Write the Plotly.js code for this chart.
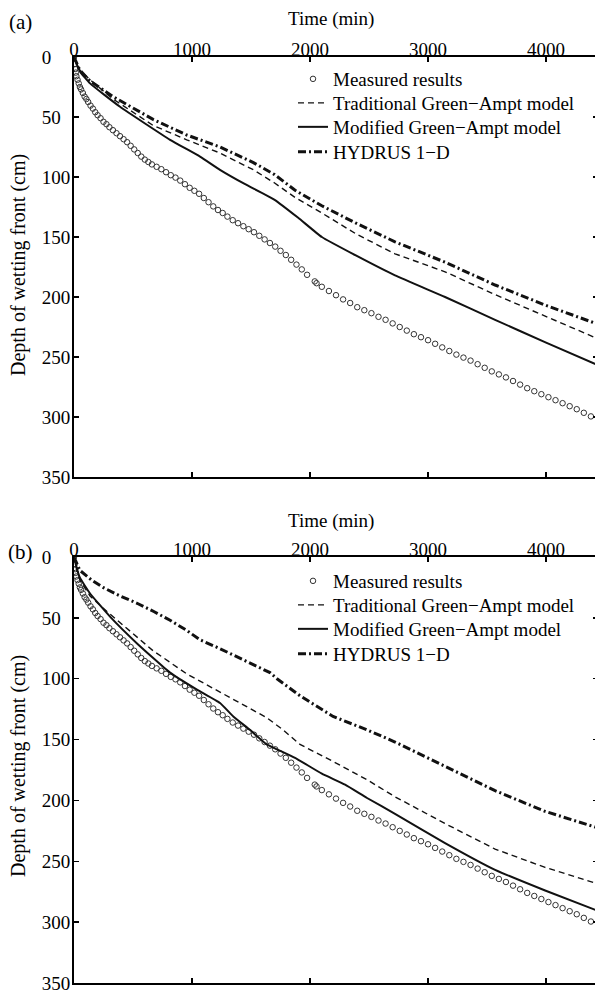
<!DOCTYPE html>
<html>
<head>
<meta charset="utf-8">
<script src="https://cdn.plot.ly/plotly-3.0.1.min.js"></script>
<style>
html, body { margin: 0; padding: 0; overflow: hidden; background: #fff; }
#chart { width: 610px; height: 1010px; }
</style>
</head>
<body>
<div id="chart"></div>
<script>
// ---- Data ----
const measuredTime = [0,5,10,15,20,30,40,50,60,75,90,105,120,140,160,180,200,225,250,275,300,330,360,390,420,450,480,510,540,570,600,630,660,700,740,780,820,860,900,940,980,1020,1060,1100,1140,1180,1220,1260,1300,1345,1390,1435,1480,1525,1570,1615,1660,1705,1750,1795,1840,1885,1930,1975,2040,2055,2100,2160,2220,2280,2340,2400,2460,2520,2580,2640,2700,2760,2820,2880,2940,3000,3060,3120,3180,3240,3300,3360,3420,3480,3540,3600,3660,3720,3780,3840,3900,3960,4020,4080,4140,4200,4260,4320,4380];
const measuredDepth = [0,6,10,13,16,19,22,25,27,30,33,35,37.5,40.5,43,46,48.5,51,54,56,58.5,61,63.5,66,68.5,71,74,77,80,83,85.5,87.5,89.5,91.5,93.5,96,98.5,100.5,103,106,109,111.5,114,117.5,121,124.5,127.5,130,133,136,138.5,141,143.5,146,149,152,155,158,161.5,165,169,173,177,181.5,187,188.5,191.5,195,198.5,202,205,208.5,211,213.5,216.5,219,222,225,228,231,233.5,236,239,242,245,248,250.5,253,256,259,262,264.5,267,270,273,276,278.5,281,283.5,286,288.5,291,293.5,296.5,299.5];

// Panel (a)
const tradA_t = [0,50,136,330,670,955,1237,1520,1700,1873,2100,2400,2720,3144,3568,4000,4420];
const tradA_d = [0,11,19,35,57,69,80,94,105,117,130,148,164,179,198,216,234];
const modA_t  = [0,50,136,390,814,1068,1237,1450,1700,1900,2100,2400,2720,3144,3568,4000,4420];
const modA_d  = [0,12,22,41.5,69,83,94,106,119,134,150,166,182,200,219,238,256];
const hydA_t  = [0,50,136,330,670,955,1237,1520,1700,1873,2100,2400,2720,3144,3568,4000,4420];
const hydA_d  = [0,11,20,33,52,65,75,88,98,111,124,139,154,171,190,207,222];

// Panel (b)
const tradB_t = [0,20,50,136,246,390,670,955,1237,1432,1633,1771,1915,2195,2483,2720,3144,3568,3992,4420];
const tradB_d = [0,9,19,32,42,54,77,96,111,122,132,142,154,168,183,197,219,240,255,268];
const modB_t  = [0,20,50,136,305,534,814,1042,1237,1350,1490,1633,1720,1873,2100,2297,2483,2720,3144,3568,3992,4420];
const modB_d  = [0,8,17,30,49,71,95,109,120,131,142,154,158,165,178,187,198,211,235,257,274,290];
const hydB_t  = [0,50,150,246,390,534,680,814,950,1068,1230,1381,1520,1661,1720,1915,2195,2483,2720,3144,3568,3992,4420];
const hydB_d  = [0,11,19,25,32,38,45,52,60,68,75,82,88,95,100,114,131,142,152,172,192,209,222];

const seriesNames = ['Measured results', 'Traditional Green\u2212Ampt model', 'Modified Green\u2212Ampt model', 'HYDRUS 1\u2212D'];
const xTicks = [0, 1000, 2000, 3000, 4000];
const yTicks = [0, 50, 100, 150, 200, 250, 300, 350];
const yTickText = ['0\u2007\u2007', '50\u2007', '100', '150', '200', '250', '300', '350'];

// ---- Styling ----
const W = 610, H = 1010;
const FONT = '"Liberation Serif", "Times New Roman", Times, serif';
const px = v => v / W;
const py = v => 1 - v / H;

function panelTraces(xa, ya, lgBase, tr_t, tr_d, mo_t, mo_d, hy_t, hy_d) {
  const lg = i => (lgBase + i === 1 ? 'legend' : 'legend' + (lgBase + i));
  return [
    { x: measuredTime, y: measuredDepth, xaxis: xa, yaxis: ya, legend: lg(1),
      name: seriesNames[0], type: 'scatter', mode: 'markers',
      marker: { symbol: 'circle-open', size: 5.5, color: '#333', line: { width: 1, color: '#333' } } },
    { x: tr_t, y: tr_d, xaxis: xa, yaxis: ya, legend: lg(2), name: seriesNames[1], type: 'scatter', mode: 'lines',
      line: { color: '#111', width: 1.4, dash: '6px,4px' } },
    { x: mo_t, y: mo_d, xaxis: xa, yaxis: ya, legend: lg(3), name: seriesNames[2], type: 'scatter', mode: 'lines',
      line: { color: '#111', width: 2, shape: 'spline', smoothing: 0.4 } },
    { x: hy_t, y: hy_d, xaxis: xa, yaxis: ya, legend: lg(4), name: seriesNames[3], type: 'scatter', mode: 'lines',
      line: { color: '#111', width: 3, dash: '8px,3px,2px,3px' } }
  ];
}

const data = [
  ...panelTraces('x', 'y', 0, tradA_t, tradA_d, modA_t, modA_d, hydA_t, hydA_d),
  ...panelTraces('x2', 'y2', 4, tradB_t, tradB_d, modB_t, modB_d, hydB_t, hydB_d)
];

function xAxis(anchor) {
  return {
    anchor: anchor, domain: [px(74), px(598)], range: [0, 4440], side: 'top',
    tickvals: xTicks, ticktext: xTicks.map(String), ticks: 'inside', ticklen: 5, tickwidth: 1.5,
    tickcolor: '#000', showline: true, linecolor: '#000', linewidth: 2, mirror: 'ticks',
    showgrid: false, zeroline: false, ticklabelstandoff: -9,
    tickfont: { family: FONT, size: 19, color: '#000' }
  };
}
function yAxis(anchor, dom) {
  return {
    anchor: anchor, domain: dom, range: [350, 0],
    tickvals: yTicks, ticktext: yTickText, ticks: 'inside', ticklen: 5, tickwidth: 1.5,
    tickcolor: '#000', showline: true, linecolor: '#000', linewidth: 2, mirror: 'ticks',
    showgrid: false, zeroline: false, ticklabelstandoff: -2,
    tickfont: { family: FONT, size: 19, color: '#000' }
  };
}

function legendBox(rowCenterPx) {
  return {
    x: px(293), xanchor: 'left', y: py(rowCenterPx - 20), yanchor: 'top',
    bgcolor: 'rgba(0,0,0,0)', borderwidth: 0, itemwidth: 30,
    font: { family: FONT, size: 19, color: '#000' }
  };
}

const ann = (text, x, y, extra) => Object.assign({
  text: text, xref: 'paper', yref: 'paper', x: px(x), y: py(y),
  xanchor: 'center', yanchor: 'middle', showarrow: false,
  font: { family: FONT, size: 19, color: '#000' }
}, extra || {});

const layout = {
  width: W, height: H,
  margin: { l: 0, r: 0, t: 0, b: 0 },
  paper_bgcolor: '#fff', plot_bgcolor: '#fff',
  showlegend: true,
  xaxis: xAxis('y'),
  yaxis: yAxis('x', [py(477), py(57)]),
  xaxis2: xAxis('y2'),
  yaxis2: yAxis('x2', [py(983), py(557)]),
  legend: legendBox(80),
  legend2: legendBox(104),
  legend3: legendBox(128),
  legend4: legendBox(153),
  legend5: legendBox(582),
  legend6: legendBox(606),
  legend7: legendBox(630),
  legend8: legendBox(655),
  annotations: [
    ann('(a)', 20, 22, { font: { family: FONT, size: 21, color: '#000' } }),
    ann('Time (min)', 331, 19),
    ann('Depth of wetting front (cm)', 18, 265, { textangle: -90, font: { family: FONT, size: 20, color: '#000' } }),
    ann('(b)', 20, 552, { font: { family: FONT, size: 21, color: '#000' } }),
    ann('Time (min)', 331, 521),
    ann('Depth of wetting front (cm)', 18, 766, { textangle: -90, font: { family: FONT, size: 20, color: '#000' } })
  ]
};

Plotly.newPlot('chart', data, layout, { staticPlot: true, displayModeBar: false });
</script>
</body>
</html>
